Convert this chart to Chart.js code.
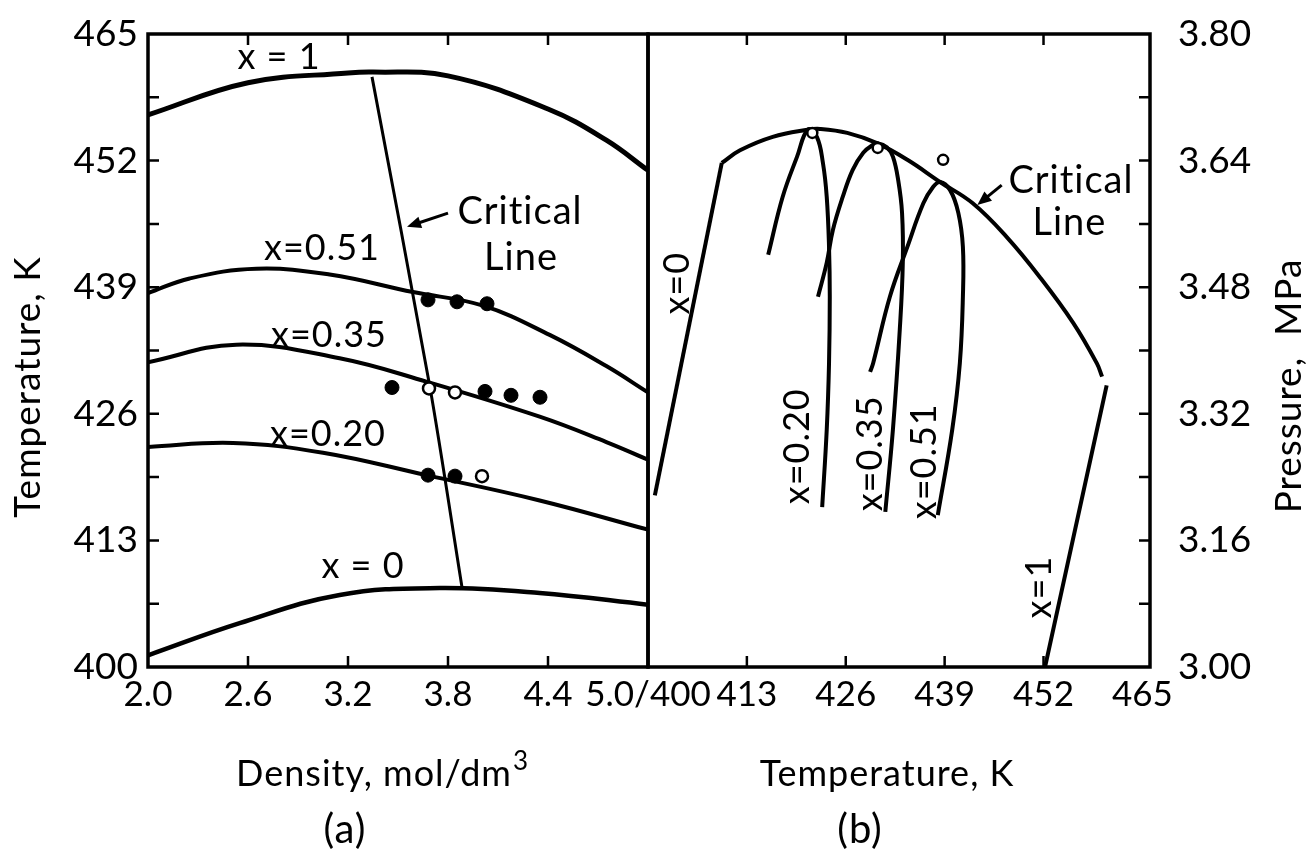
<!DOCTYPE html>
<html>
<head>
<meta charset="utf-8">
<script src="https://cdn.jsdelivr.net/npm/chart.js@4.4.1/dist/chart.umd.min.js"></script>
<style>
  html, body { margin: 0; padding: 0; background: #fff; }
  body { width: 1309px; height: 853px; position: relative; overflow: hidden; }
  .panel { position: absolute; top: 0; height: 853px; }
  #panelA { left: 0; width: 740px; }
  #panelB { left: 560px; width: 749px; }
</style>
</head>
<body>
<div class="panel" id="panelA"><canvas id="chartA"></canvas></div>
<div class="panel" id="panelB"><canvas id="chartB"></canvas></div>
<script>
// ---- (a) temperature against density ----
const densityTicks = [2.0, 2.6, 3.2, 3.8, 4.4, 5.0];
const densityTickLabels = ['2.0', '2.6', '3.2', '3.8', '4.4', '5.0/400'];
const tempTicks = [400, 406.5, 413, 419.5, 426, 432.5, 439, 445.5, 452, 458.5, 465];
const tempTickLabels = ['400', '', '413', '', '426', '', '439', '', '452', '', '465'];

const x1Density = [2.0, 2.6, 3.2, 3.35, 3.8, 4.4, 4.75, 5.0];
const x1Temp = [456.7, 460.0, 461.0, 461.1, 460.7, 457.3, 454.1, 451.0];
const x051Density = [2.0, 2.25, 2.65, 3.09, 3.59, 4.01, 4.41, 4.75, 5.0];
const x051Temp = [438.4, 439.9, 440.9, 440.3, 438.5, 437.1, 434.1, 430.9, 428.2];
const x035Density = [2.0, 2.53, 3.15, 3.67, 4.35, 4.75, 5.0];
const x035Temp = [431.3, 433.1, 431.7, 429.3, 425.7, 423.1, 421.3];
const x020Density = [2.0, 2.51, 3.05, 3.67, 4.35, 5.0];
const x020Temp = [422.6, 423.0, 422.0, 419.7, 417.1, 414.1];
const x0Density = [2.0, 2.55, 3.15, 3.75, 4.35, 5.0];
const x0Temp = [401.2, 404.5, 407.4, 408.1, 407.6, 406.4];
const critDensity = [3.344, 3.692, 3.884];
const critTemp = [460.6, 428.7, 408.2];

// measured points, solid and hollow
const solidDensity = [3.68, 3.854, 4.034, 3.464, 4.022, 4.178, 4.352, 3.68, 3.842];
const solidTemp = [437.7, 437.5, 437.3, 428.7, 428.3, 427.9, 427.7, 419.7, 419.6];
const hollowDensity = [3.686, 3.842, 4.004];
const hollowTemp = [428.6, 428.2, 419.6];

// ---- (b) pressure against temperature ----
const tempTicksB = [400, 413, 426, 439, 452, 465];
const tempTickLabelsB = ['', '413', '426', '439', '452', '465'];
const pressTicks = [3.00, 3.08, 3.16, 3.24, 3.32, 3.40, 3.48, 3.56, 3.64, 3.72, 3.80];
const pressTickLabels = ['3.00', '', '3.16', '', '3.32', '', '3.48', '', '3.64', '', '3.80'];

const x0TempB = [400.9, 409.7];
const x0Press = [3.217, 3.637];
const x1TempB = [460.3, 452.2];
const x1Press = [3.356, 3.00];
const critTempB = [409.7, 412.1, 416.4, 421.0, 422.6, 426.2, 430.1, 434.1, 438.4, 442.7, 447.2, 451.5, 455.9, 459.0, 459.7];
const critPress = [3.637, 3.653, 3.670, 3.679, 3.680, 3.675, 3.662, 3.641, 3.613, 3.586, 3.543, 3.493, 3.435, 3.384, 3.367];
const loop020Temp = [415.8, 417.7, 419.6, 421.0, 422.2, 423.0, 423.5, 423.8, 423.9, 423.8, 423.5, 422.9];
const loop020Press = [3.521, 3.594, 3.645, 3.679, 3.670, 3.637, 3.594, 3.531, 3.468, 3.384, 3.300, 3.202];
const loop035Temp = [422.35, 423.5, 424.3, 425.6, 426.9, 428.3, 429.6, 430.2, 431.4, 432.2, 432.9, 433.4, 433.5, 433.1, 432.2, 431.2];
const loop035Press = [3.468, 3.511, 3.552, 3.594, 3.628, 3.650, 3.660, 3.662, 3.657, 3.645, 3.615, 3.574, 3.511, 3.426, 3.300, 3.196];
const loop051Temp = [429.2, 429.6, 431.8, 434.1, 436.2, 437.5, 438.4, 439.7, 440.8, 441.4, 441.4, 441.0, 440.0, 438.1];
const loop051Press = [3.373, 3.384, 3.468, 3.531, 3.586, 3.607, 3.613, 3.603, 3.574, 3.531, 3.468, 3.384, 3.300, 3.192];
const critPointTemp = [421.6, 430.2, 438.8];
const critPointPress = [3.675, 3.656, 3.641];

const FONT = 'Lato, "Open Sans", "DejaVu Sans", sans-serif';
Chart.defaults.font.family = FONT;
Chart.defaults.color = '#000';

function pts(xs, ys) {
  return xs.map((x, i) => ({ x: x, y: ys[i] }));
}

function curve(xs, ys, width, tension) {
  return {
    data: pts(xs, ys), showLine: true, fill: false,
    borderColor: '#000', borderWidth: width, tension: tension,
    pointRadius: 0, pointHoverRadius: 0
  };
}

function dots(xs, ys, hollow, r) {
  return {
    data: pts(xs, ys), showLine: false,
    pointRadius: r, pointHoverRadius: r,
    pointBackgroundColor: hollow ? '#fff' : '#000',
    pointBorderColor: '#000', pointBorderWidth: hollow ? 2.5 : 1
  };
}

// box round the plot area plus the short inward tick marks
function frameTicks(side) {
  return {
    id: 'frameTicks',
    afterDatasetsDraw(chart) {
      const ctx = chart.ctx, a = chart.chartArea;
      const xs = chart.scales.x, ys = chart.scales.y;
      const len = 11;
      ctx.save();
      ctx.strokeStyle = '#000';
      ctx.lineWidth = 2.5;
      ctx.beginPath();
      xs.ticks.forEach(t => {
        const px = xs.getPixelForValue(t.value);
        if (px < a.left + 12 || px > a.right - 12) return;
        ctx.moveTo(px, a.bottom); ctx.lineTo(px, a.bottom - len);
        ctx.moveTo(px, a.top); ctx.lineTo(px, a.top + len);
      });
      ys.ticks.forEach(t => {
        const py = ys.getPixelForValue(t.value);
        if (py < a.top + 12 || py > a.bottom - 12) return;
        const edge = side === 'right' ? a.right : a.left;
        ctx.moveTo(edge, py); ctx.lineTo(edge + (side === 'right' ? -len : len), py);
      });
      ctx.stroke();
      ctx.lineWidth = 3.5;
      ctx.strokeRect(a.left, a.top, a.right - a.left, a.bottom - a.top);
      ctx.restore();
    }
  };
}

// curve labels, arrows and axis titles
function notes(labels, arrows) {
  return {
    id: 'notes',
    afterDraw(chart) {
      const ctx = chart.ctx;
      const xs = chart.scales.x, ys = chart.scales.y;
      ctx.save();
      ctx.fillStyle = '#000';
      ctx.strokeStyle = '#000';
      ctx.textAlign = 'center';
      ctx.textBaseline = 'middle';
      ctx.letterSpacing = '1px';
      labels.forEach(n => {
        const px = n.at ? xs.getPixelForValue(n.at[0]) : n.px;
        const py = n.at ? ys.getPixelForValue(n.at[1]) : n.py;
        ctx.save();
        ctx.translate(px, py);
        if (n.rot) ctx.rotate(n.rot * Math.PI / 180);
        ctx.font = (n.size || 36) + 'px ' + FONT;
        ctx.fillText(n.text, 0, 0);
        if (n.sup) {
          const w = ctx.measureText(n.text).width;
          ctx.font = '26px ' + FONT;
          ctx.textAlign = 'left';
          ctx.fillText(n.sup, w / 2 + 1, -12);
        }
        ctx.restore();
      });
      arrows.forEach(ar => {
        const x0 = xs.getPixelForValue(ar.from[0]), y0 = ys.getPixelForValue(ar.from[1]);
        const x1 = xs.getPixelForValue(ar.to[0]), y1 = ys.getPixelForValue(ar.to[1]);
        const c = Math.cos(Math.atan2(y1 - y0, x1 - x0)), s = Math.sin(Math.atan2(y1 - y0, x1 - x0));
        ctx.lineWidth = 3;
        ctx.beginPath();
        ctx.moveTo(x0, y0);
        ctx.lineTo(x1 - 8 * c, y1 - 8 * s);
        ctx.stroke();
        ctx.beginPath();
        ctx.moveTo(x1, y1);
        ctx.lineTo(x1 - 14 * c + 6 * s, y1 - 14 * s - 6 * c);
        ctx.lineTo(x1 - 14 * c - 6 * s, y1 - 14 * s + 6 * c);
        ctx.closePath();
        ctx.fill();
      });
      ctx.restore();
    }
  };
}

function axis(min, max, ticks, labels, fitKey, fitSize, pos, pad, size) {
  return {
    type: 'linear', position: pos, min: min, max: max,
    afterBuildTicks: s => { s.ticks = ticks.map(v => ({ value: v })); },
    afterFit: s => {
      s[fitKey] = fitSize;
      // the layout padding already leaves room for the end labels
      s.paddingTop = s.paddingBottom = s.paddingLeft = s.paddingRight = 0;
    },
    grid: { display: false, drawTicks: false },
    border: { display: false },
    ticks: {
      autoSkip: false, maxRotation: 0, minRotation: 0, padding: pad,
      font: { size: size },
      callback: (v, i) => labels[i]
    }
  };
}

new Chart(document.getElementById('chartA'), {
  type: 'scatter',
  data: {
    datasets: [
      dots(solidDensity, solidTemp, false, 7),
      dots(hollowDensity, hollowTemp, true, 6),
      curve(x1Density, x1Temp, 5, 0.4),
      curve(x051Density, x051Temp, 4, 0.4),
      curve(x035Density, x035Temp, 4, 0.4),
      curve(x020Density, x020Temp, 4, 0.4),
      curve(x0Density, x0Temp, 4.5, 0.4),
      curve(critDensity, critTemp, 3, 0.3)
    ]
  },
  options: {
    responsive: true, maintainAspectRatio: false, animation: false,
    layout: { padding: { left: 0, top: 34, right: 92, bottom: 0 } },
    plugins: { legend: { display: false }, tooltip: { enabled: false } },
    scales: {
      x: axis(2.0, 5.0, densityTicks, densityTickLabels, 'height', 186, 'bottom', 7, 35),
      y: axis(400, 465, tempTicks, tempTickLabels, 'width', 148, 'left', 10, 37)
    }
  },
  plugins: [
    frameTicks('left'),
    notes([
      { text: 'x = 1', at: [2.786, 462.6] },
      { text: 'x=0.51', at: [3.044, 443.0] },
      { text: 'x=0.35', at: [3.086, 434.1] },
      { text: 'x=0.20', at: [3.08, 423.9] },
      { text: 'x = 0', at: [3.29, 410.3] },
      { text: 'Critical', at: [4.232, 446.7], size: 38 },
      { text: 'Line', at: [4.238, 442.0], size: 38 },
      { text: 'Temperature, K', px: 28, py: 387, rot: -90, size: 37 },
      { text: 'Density, mol/dm', sup: '3', px: 374, py: 774, size: 36 },
      { text: '(a)', px: 345, py: 830, size: 40 }
    ], [{ from: [3.8, 446.6], to: [3.554, 445.2] }])
  ]
});

new Chart(document.getElementById('chartB'), {
  type: 'scatter',
  data: {
    datasets: [
      dots(critPointTemp, critPointPress, true, 5),
      curve(x0TempB, x0Press, 4, 0),
      curve(critTempB, critPress, 4, 0.4),
      curve(x1TempB, x1Press, 4, 0),
      curve(loop020Temp, loop020Press, 4, 0.4),
      curve(loop035Temp, loop035Press, 4, 0.4),
      curve(loop051Temp, loop051Press, 4, 0.4)
    ]
  },
  options: {
    responsive: true, maintainAspectRatio: false, animation: false,
    layout: { padding: { left: 88, top: 34, right: 0, bottom: 0 } },
    plugins: { legend: { display: false }, tooltip: { enabled: false } },
    scales: {
      x: axis(400, 466, tempTicksB, tempTickLabelsB, 'height', 186, 'bottom', 7, 35),
      y: axis(3.00, 3.80, pressTicks, pressTickLabels, 'width', 159, 'right', 28, 37)
    }
  },
  plugins: [
    frameTicks('right'),
    notes([
      { text: 'x=0', at: [403.8, 3.485], rot: -90 },
      { text: 'x=0.20', at: [419.7, 3.279], rot: -90 },
      { text: 'x=0.35', at: [429.3, 3.270], rot: -90 },
      { text: 'x=0.51', at: [436.4, 3.260], rot: -90 },
      { text: 'x=1', at: [451.4, 3.101], rot: -90 },
      { text: 'Critical', at: [455.6, 3.615], size: 38 },
      { text: 'Line', at: [455.4, 3.562], size: 38 },
      { text: 'Pressure,  MPa', px: 729, py: 386, rot: -90, size: 37 },
      { text: 'Temperature, K', px: 327, py: 774, size: 36 },
      { text: '(b)', px: 300, py: 830, size: 40 }
    ], [{ from: [446.5, 3.609], to: [443.3, 3.584] }])
  ]
});
</script>
</body>
</html>
